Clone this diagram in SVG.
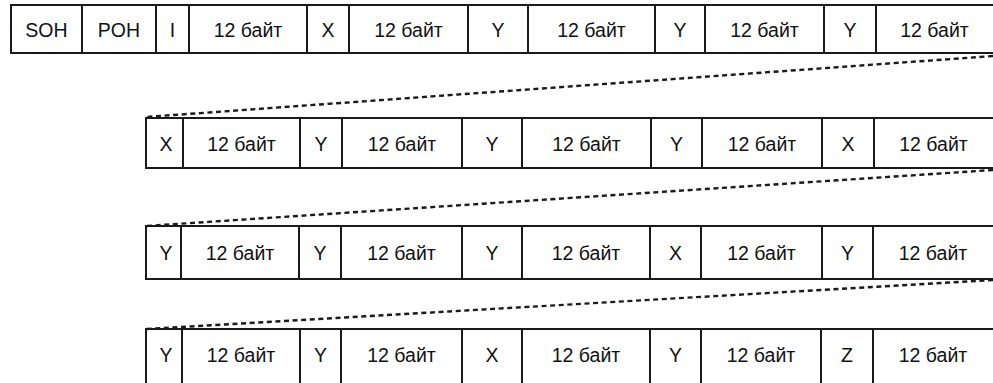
<svg xmlns="http://www.w3.org/2000/svg" width="993" height="383" viewBox="0 0 993 383">
<style>
.c rect{fill:#fff;stroke:#1a1a1a;stroke-width:2}
.c text{font-family:"Liberation Sans",Arial,sans-serif;font-size:19.5px;fill:#111;text-anchor:middle}
.d{stroke:#1a1a1a;stroke-width:2.4;stroke-dasharray:5 3.6;fill:none}
</style>
<rect width="993" height="383" fill="#fff"/>
<g id="row1" class="c">
<g id="r1c1"><rect x="11" y="5" width="71" height="48"/><text x="46.5" y="36.5">SOH</text></g>
<g id="r1c2"><rect x="82" y="5" width="74" height="48"/><text x="119" y="36.5">POH</text></g>
<g id="r1c3"><rect x="156" y="5" width="33" height="48"/><text x="172.5" y="36.5">I</text></g>
<g id="r1c4"><rect x="189" y="5" width="118" height="48"/><text x="248" y="36.5">12 байт</text></g>
<g id="r1c5"><rect x="307" y="5" width="42" height="48"/><text x="328" y="36.5">X</text></g>
<g id="r1c6"><rect x="349" y="5" width="119" height="48"/><text x="408.5" y="36.5">12 байт</text></g>
<g id="r1c7"><rect x="468" y="5" width="60" height="48"/><text x="498" y="36.5">Y</text></g>
<g id="r1c8"><rect x="528" y="5" width="127" height="48"/><text x="591.5" y="36.5">12 байт</text></g>
<g id="r1c9"><rect x="655" y="5" width="50" height="48"/><text x="680" y="36.5">Y</text></g>
<g id="r1c10"><rect x="705" y="5" width="119" height="48"/><text x="764.5" y="36.5">12 байт</text></g>
<g id="r1c11"><rect x="824" y="5" width="52" height="48"/><text x="850" y="36.5">Y</text></g>
<g id="r1c12"><rect x="876" y="5" width="120" height="48"/><text x="934.5" y="36.5">12 байт</text></g>
</g>
<g id="row2" class="c">
<g id="r2c1"><rect x="146" y="118" width="37" height="50"/><text x="166" y="150.5">X</text></g>
<g id="r2c2"><rect x="183" y="118" width="117" height="50"/><text x="241.5" y="150.5">12 байт</text></g>
<g id="r2c3"><rect x="300" y="118" width="42" height="50"/><text x="321" y="150.5">Y</text></g>
<g id="r2c4"><rect x="342" y="118" width="120" height="50"/><text x="402" y="150.5">12 байт</text></g>
<g id="r2c5"><rect x="462" y="118" width="60" height="50"/><text x="492" y="150.5">Y</text></g>
<g id="r2c6"><rect x="522" y="118" width="129" height="50"/><text x="586.5" y="150.5">12 байт</text></g>
<g id="r2c7"><rect x="651" y="118" width="51" height="50"/><text x="676.5" y="150.5">Y</text></g>
<g id="r2c8"><rect x="702" y="118" width="120" height="50"/><text x="762" y="150.5">12 байт</text></g>
<g id="r2c9"><rect x="822" y="118" width="52" height="50"/><text x="848" y="150.5">X</text></g>
<g id="r2c10"><rect x="874" y="118" width="122" height="50"/><text x="933.5" y="150.5">12 байт</text></g>
</g>
<g id="row3" class="c">
<g id="r3c1"><rect x="146" y="226" width="35" height="53"/><text x="166" y="259.5">Y</text></g>
<g id="r3c2"><rect x="181" y="226" width="118" height="53"/><text x="240" y="259.5">12 байт</text></g>
<g id="r3c3"><rect x="299" y="226" width="42" height="53"/><text x="320" y="259.5">Y</text></g>
<g id="r3c4"><rect x="341" y="226" width="121" height="53"/><text x="401.5" y="259.5">12 байт</text></g>
<g id="r3c5"><rect x="462" y="226" width="60" height="53"/><text x="492" y="259.5">Y</text></g>
<g id="r3c6"><rect x="522" y="226" width="128" height="53"/><text x="586" y="259.5">12 байт</text></g>
<g id="r3c7"><rect x="650" y="226" width="51" height="53"/><text x="675.5" y="259.5">X</text></g>
<g id="r3c8"><rect x="701" y="226" width="121" height="53"/><text x="761.5" y="259.5">12 байт</text></g>
<g id="r3c9"><rect x="822" y="226" width="51" height="53"/><text x="847.5" y="259.5">Y</text></g>
<g id="r3c10"><rect x="873" y="226" width="123" height="53"/><text x="933" y="259.5">12 байт</text></g>
</g>
<g id="row4" class="c">
<g id="r4c1"><rect x="146" y="329" width="36" height="60"/><text x="166" y="362">Y</text></g>
<g id="r4c2"><rect x="182" y="329" width="118" height="60"/><text x="241" y="362">12 байт</text></g>
<g id="r4c3"><rect x="300" y="329" width="41" height="60"/><text x="320.5" y="362">Y</text></g>
<g id="r4c4"><rect x="341" y="329" width="121" height="60"/><text x="401.5" y="362">12 байт</text></g>
<g id="r4c5"><rect x="462" y="329" width="60" height="60"/><text x="492" y="362">X</text></g>
<g id="r4c6"><rect x="522" y="329" width="128" height="60"/><text x="586" y="362">12 байт</text></g>
<g id="r4c7"><rect x="650" y="329" width="51" height="60"/><text x="675.5" y="362">Y</text></g>
<g id="r4c8"><rect x="701" y="329" width="120" height="60"/><text x="761" y="362">12 байт</text></g>
<g id="r4c9"><rect x="821" y="329" width="52" height="60"/><text x="847" y="362">Z</text></g>
<g id="r4c10"><rect x="873" y="329" width="123" height="60"/><text x="933" y="362">12 байт</text></g>
</g>
<g id="connectors">
<line class="d" x1="993" y1="56" x2="146" y2="117"/>
<line class="d" x1="993" y1="170" x2="146" y2="226"/>
<line class="d" x1="993" y1="280" x2="146" y2="329"/>
</g>
</svg>
